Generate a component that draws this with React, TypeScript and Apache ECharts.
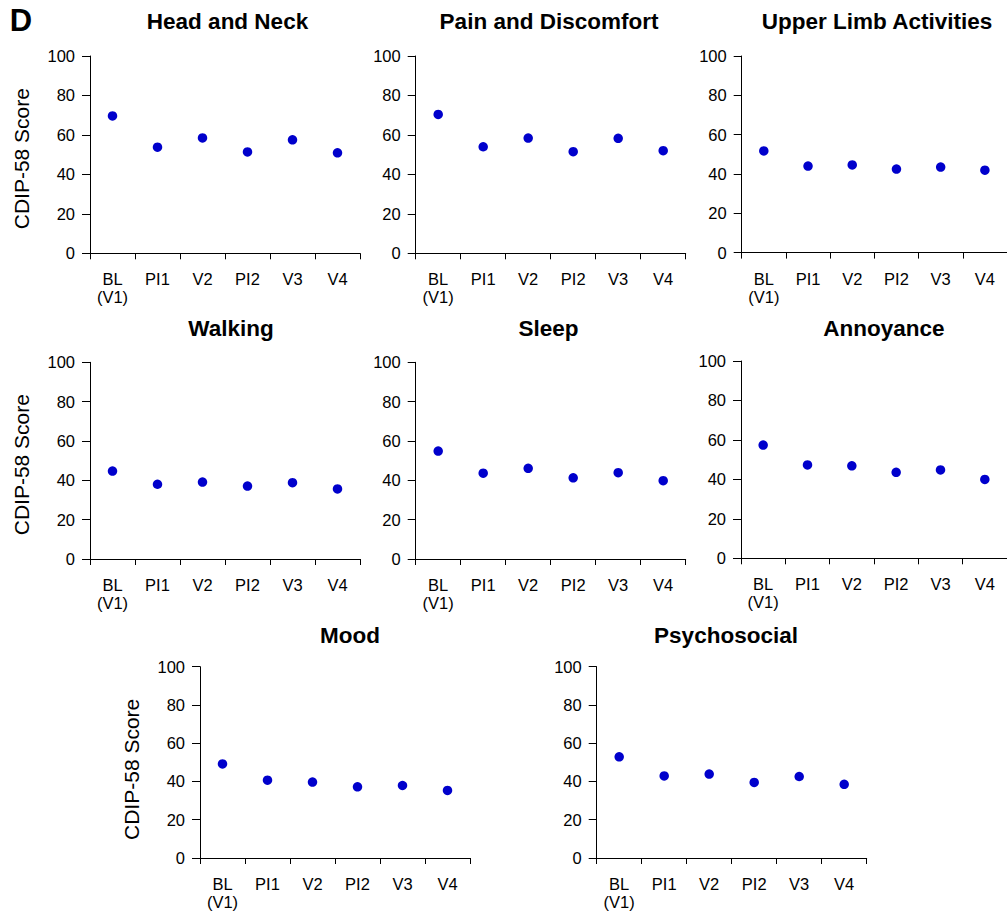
import React, { useEffect, useRef } from 'react';
import * as echarts from 'echarts';

const categories = ['BL\n(V1)', 'PI1', 'V2', 'PI2', 'V3', 'V4'];
const yTicks = [0, 20, 40, 60, 80, 100];

const headNeck = [69.6, 53.8, 58.5, 51.4, 57.5, 50.9];
const painDiscomfort = [70.4, 54.0, 58.4, 51.5, 58.3, 52.0];
const upperLimb = [51.7, 44.0, 44.6, 42.5, 43.5, 41.9];
const walking = [44.7, 38.0, 39.1, 37.1, 38.8, 35.6];
const sleep = [54.9, 43.6, 46.1, 41.3, 43.9, 39.8];
const annoyance = [57.4, 47.3, 46.9, 43.6, 44.8, 40.0];
const mood = [49.2, 40.7, 39.7, 37.2, 37.9, 35.3];
const psychosocial = [52.9, 42.9, 43.9, 39.5, 42.6, 38.5];

const panelTitles = [
  'Head and Neck',
  'Pain and Discomfort',
  'Upper Limb Activities',
  'Walking',
  'Sleep',
  'Annoyance',
  'Mood',
  'Psychosocial',
];
const panelValues = [headNeck, painDiscomfort, upperLimb, walking, sleep, annoyance, mood, psychosocial];
const yAxisTitle = 'CDIP-58 Score';

const FONT = '"Liberation Sans", Arial, Helvetica, sans-serif';

// layout: grid left, top, height, title x, title y, has y name
const layout = [
  { left: 90, top: 56, h: 197.3, tx: 227.5, ty: 21, name: true },
  { left: 415.7, top: 56, h: 197.3, tx: 549, ty: 21, name: false },
  { left: 741.7, top: 56, h: 196.6, tx: 877, ty: 21, name: false },
  { left: 90, top: 362.3, h: 196.7, tx: 231, ty: 328, name: true },
  { left: 415.7, top: 362.3, h: 196.7, tx: 548.5, ty: 328, name: false },
  { left: 741, top: 361, h: 197.3, tx: 884, ty: 328, name: false },
  { left: 200, top: 666.7, h: 197.3, tx: 350, ty: 635, name: true },
  { left: 596.7, top: 666.7, h: 197.3, tx: 726, ty: 635, name: false },
];
const GRID_W = 270;

export default function App() {
  const ref = useRef<HTMLDivElement>(null);

  useEffect(() => {
    if (!ref.current) return;
    const chart = echarts.init(ref.current, null, { renderer: 'svg' });

    const grids: any[] = [];
    const xAxes: any[] = [];
    const yAxes: any[] = [];
    const series: any[] = [];
    const graphics: any[] = [];

    layout.forEach((L, i) => {
      grids.push({ left: L.left, top: L.top, width: GRID_W, height: L.h, containLabel: false });
      xAxes.push({
        type: 'category',
        gridIndex: i,
        data: categories,
        boundaryGap: true,
        axisLine: { show: true, lineStyle: { color: '#000', width: 1 } },
        axisTick: { show: true, length: 6, alignWithLabel: false, lineStyle: { color: '#000' } },
        axisLabel: {
          interval: 0,
          color: '#000',
          fontSize: 16.5,
          fontFamily: FONT,
          lineHeight: 18,
          margin: 17,
          verticalAlign: 'top',
        },
        splitLine: { show: false },
      });
      yAxes.push({
        type: 'value',
        gridIndex: i,
        min: yTicks[0],
        max: yTicks[yTicks.length - 1],
        interval: 20,
        axisLine: { show: true, lineStyle: { color: '#000', width: 1 } },
        axisTick: { show: true, length: 8, lineStyle: { color: '#000' } },
        axisLabel: { color: '#000', fontSize: 16.5, fontFamily: FONT, margin: 15 },
        splitLine: { show: false },
      });
      series.push({
        type: 'scatter',
        name: panelTitles[i],
        xAxisIndex: i,
        yAxisIndex: i,
        data: panelValues[i],
        symbol: 'circle',
        symbolSize: 9.5,
        itemStyle: { color: '#0000CC', opacity: 1 },
      });
      graphics.push({
        type: 'text',
        x: L.tx,
        y: L.ty,
        style: {
          text: panelTitles[i],
          fill: '#000',
          font: `bold 22.5px ${FONT}`,
          textAlign: 'center',
          textVerticalAlign: 'middle',
        },
      });
      if (L.name) {
        graphics.push({
          type: 'text',
          x: L.left - 69,
          y: L.top + L.h / 2 + 4,
          rotation: Math.PI / 2,
          style: {
            text: yAxisTitle,
            fill: '#000',
            font: `21px ${FONT}`,
            textAlign: 'center',
            textVerticalAlign: 'middle',
          },
        });
      }
    });

    graphics.push({
      type: 'text',
      x: 21,
      y: 20,
      style: {
        text: 'D',
        fill: '#000',
        font: `bold 31px ${FONT}`,
        textAlign: 'center',
        textVerticalAlign: 'middle',
      },
    });

    chart.setOption({
      animation: false,
      backgroundColor: '#fff',
      grid: grids,
      xAxis: xAxes,
      yAxis: yAxes,
      series,
      graphic: graphics,
    });

    return () => chart.dispose();
  }, []);

  return (
    <div
      ref={ref}
      style={{ position: 'fixed', left: 0, top: 0, width: 1007, height: 911, background: '#fff' }}
    />
  );
}
